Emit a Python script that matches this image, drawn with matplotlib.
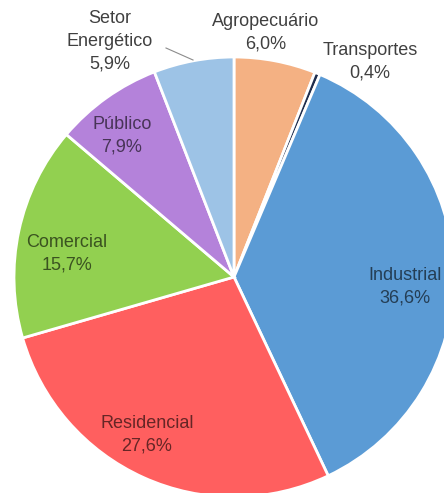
import numpy as np
import matplotlib.pyplot as plt

plt.rcParams['font.family'] = ['Liberation Sans', 'DejaVu Sans']

# consumo por setor (%)
setores = ["Agropecuário", "Transportes", "Industrial", "Residencial",
           "Comercial", "Público", "Setor\nEnergético"]
valores = [6.0, 0.4, 36.6, 27.6, 15.7, 7.9, 5.9]
cores = ["#F4B183", "#1F2D4D", "#5B9BD5", "#FF5F5F",
         "#92D050", "#B482DA", "#9DC3E6"]

W, H = 444, 493
fig = plt.figure(figsize=(W / 100, H / 100), dpi=100)
ax = fig.add_axes([0, 0, 1, 1])

cx, cy, r = 234, H - 277, 220
ax.pie(valores, colors=cores, startangle=90, counterclock=False,
       center=(cx, cy), radius=r, frame=True,
       wedgeprops=dict(edgecolor='white', linewidth=2))
ax.set_xlim(0, W)
ax.set_ylim(0, H)
ax.set_aspect('equal')
ax.axis('off')

# posições dos rótulos (px, a partir do topo) e se ficam dentro da fatia
pos = [(266, 33, False), (370, 62, False), (405, 287, True), (147, 435, True),
       (67, 254, True), (122, 136, True), (110, 41, False)]

for nome, v, (x, y, dentro) in zip(setores, valores, pos):
    txt = f"{nome}\n{v:.1f}%".replace(".", ",")
    if dentro:
        ax.text(x, H - y, txt, ha='center', va='center', fontsize=13,
                color='black', alpha=0.6, linespacing=1.45)
    else:
        ax.text(x, H - y, txt, ha='center', va='center', fontsize=13,
                color='#404040', linespacing=1.45)

# linha guia do Setor Energético
ax.plot([166, 193], [H - 48, H - 60], color='#8c8c8c', lw=0.8)

fig.savefig("out.png", dpi=100)
